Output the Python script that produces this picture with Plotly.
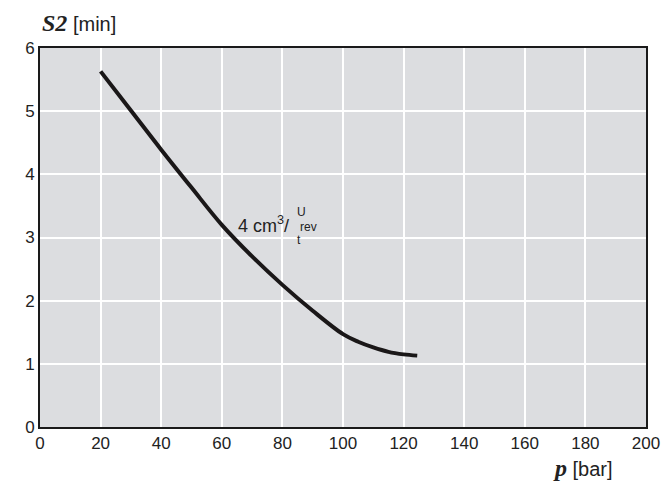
import plotly.graph_objects as go

# Pressure p [bar] and time S2 [min] along the 4 cm³/rev curve
pressure = [20, 30, 40, 50, 60, 70, 80, 90, 100, 105, 110, 115, 120, 124.5]
s2_time = [5.63, 5.01, 4.39, 3.79, 3.20, 2.70, 2.25, 1.84, 1.47, 1.35, 1.26, 1.19, 1.15, 1.13]

x_ticks = [0, 20, 40, 60, 80, 100, 120, 140, 160, 180, 200]
y_ticks = [0, 1, 2, 3, 4, 5, 6]

sans = "Liberation Sans, Arial, sans-serif"
ink = "#222"

fig = go.Figure()
fig.add_trace(go.Scatter(
    x=pressure, y=s2_time, mode="lines",
    line=dict(color="#1a1718", width=4, shape="spline", smoothing=1.0),
    showlegend=False, hoverinfo="skip",
))

axis_common = dict(
    showgrid=True, gridcolor="white", gridwidth=1.5,
    showline=True, linecolor="#1a1a1a", linewidth=2, mirror=True,
    zeroline=False, ticks="", automargin=False,
    tickfont=dict(family=sans, size=17, color=ink),
)

fig.update_xaxes(range=[0, 200], tickvals=x_ticks, **axis_common)
fig.update_yaxes(range=[0, 6], tickvals=y_ticks, **axis_common)

annotations = [
    # curve label: 4 cm³/ with stacked U / rev / t
    dict(x=73.8, y=3.2, xref="x", yref="y", text="4 cm<sup>3</sup>/",
         showarrow=False, font=dict(family=sans, size=18, color=ink)),
    dict(x=86.2, y=3.40, xref="x", yref="y", text="U", xanchor="center",
         showarrow=False, font=dict(family=sans, size=12, color=ink)),
    dict(x=85.3, y=3.17, xref="x", yref="y", text="rev", xanchor="left",
         showarrow=False, font=dict(family=sans, size=12, color=ink)),
    dict(x=85.4, y=2.96, xref="x", yref="y", text="t", xanchor="center",
         showarrow=False, font=dict(family=sans, size=12, color=ink)),
    # axis titles
    dict(x=0.0, y=1.066, xref="paper", yref="paper", xanchor="left", yanchor="middle",
         text="<b><i><span style='font-family:Liberation Serif;font-size:24px'>S2</span></i></b> [min]",
         showarrow=False, font=dict(family=sans, size=20, color=ink)),
    dict(x=0.949, y=-0.108, xref="paper", yref="paper", xanchor="right", yanchor="middle",
         text="<b><i><span style='font-family:Liberation Serif;font-size:24px'>p</span></i></b> [bar]",
         showarrow=False, font=dict(family=sans, size=20, color=ink)),
]

fig.update_layout(
    width=663, height=487,
    margin=dict(l=40, r=17, t=48, b=60, autoexpand=False),
    plot_bgcolor="#dcdde0", paper_bgcolor="white",
    annotations=annotations,
)

fig.write_html("out.html")
